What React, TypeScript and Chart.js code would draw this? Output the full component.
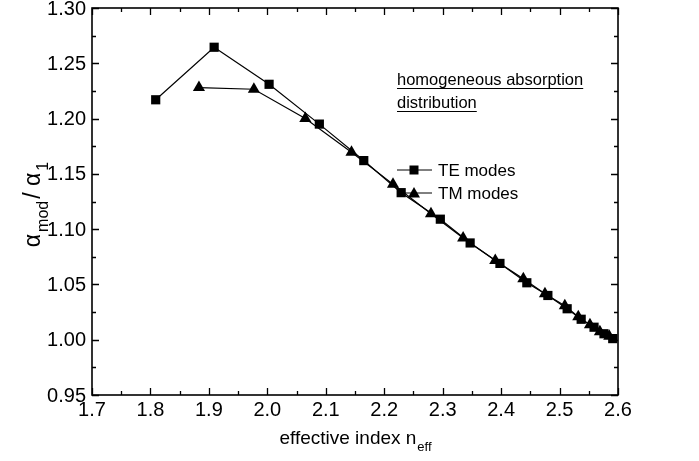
import React, { useEffect, useRef } from "react";
import { Chart, registerables } from "chart.js";

Chart.register(...registerables);

// Effective index and normalised modal absorption of the guided modes
const teIndex = [1.809, 1.909, 2.003, 2.089, 2.165, 2.229, 2.296, 2.347, 2.398, 2.444, 2.48, 2.513, 2.537, 2.559, 2.576, 2.591];
const teRatio = [1.217, 1.2645, 1.231, 1.195, 1.162, 1.133, 1.109, 1.0875, 1.069, 1.0515, 1.04, 1.028, 1.0185, 1.0113, 1.0054, 1.001];
const tmIndex = [1.883, 1.977, 2.065, 2.144, 2.215, 2.28, 2.335, 2.39, 2.438, 2.475, 2.509, 2.532, 2.552, 2.569, 2.585];
const tmRatio = [1.228, 1.2265, 1.2, 1.1696, 1.1407, 1.114, 1.092, 1.0717, 1.0551, 1.0416, 1.0307, 1.0208, 1.0136, 1.0072, 1.0032];

const xTicks = [1.7, 1.8, 1.9, 2.0, 2.1, 2.2, 2.3, 2.4, 2.5, 2.6];
const yTicks = [0.95, 1.0, 1.05, 1.1, 1.15, 1.2, 1.25, 1.3];
const seriesNames = ["TE modes", "TM modes"];
const noteLines = ["homogeneous absorption", "distribution"];

const FONT = "'Liberation Sans', Arial, sans-serif";

const toPoints = (xs: number[], ys: number[]) => xs.map((x, i) => ({ x, y: ys[i] }));

// Frame, inward major/minor ticks on all four sides, and tick labels
const framePlugin = {
  id: "frameTicks",
  afterDatasetsDraw(chart: any) {
    const { ctx, chartArea: a, scales } = chart;
    const xs = scales.x;
    const ys = scales.y;
    ctx.save();
    ctx.strokeStyle = "#000";
    ctx.fillStyle = "#000";
    ctx.lineWidth = 1.6;
    ctx.strokeRect(a.left, a.top, a.right - a.left, a.bottom - a.top);
    ctx.lineWidth = 1.3;

    const xStep = (xTicks[1] - xTicks[0]) / 2;
    for (let i = 0; i <= (xTicks.length - 1) * 2; i++) {
      const v = xTicks[0] + i * xStep;
      const len = i % 2 === 0 ? 7 : 4;
      const px = Math.round(xs.getPixelForValue(v)) + 0.5;
      ctx.beginPath();
      ctx.moveTo(px, a.bottom);
      ctx.lineTo(px, a.bottom - len);
      ctx.moveTo(px, a.top);
      ctx.lineTo(px, a.top + len);
      ctx.stroke();
    }
    const yStep = (yTicks[1] - yTicks[0]) / 2;
    for (let i = 0; i <= (yTicks.length - 1) * 2; i++) {
      const v = yTicks[0] + i * yStep;
      const len = i % 2 === 0 ? 7 : 4;
      const py = Math.round(ys.getPixelForValue(v)) + 0.5;
      ctx.beginPath();
      ctx.moveTo(a.left, py);
      ctx.lineTo(a.left + len, py);
      ctx.moveTo(a.right, py);
      ctx.lineTo(a.right - len, py);
      ctx.stroke();
    }

    ctx.font = `20px ${FONT}`;
    ctx.textAlign = "center";
    ctx.textBaseline = "top";
    xTicks.forEach((v) => {
      ctx.fillText(v.toFixed(1), xs.getPixelForValue(v), a.bottom + 5);
    });
    ctx.textAlign = "right";
    ctx.textBaseline = "middle";
    yTicks.forEach((v) => {
      ctx.fillText(v.toFixed(2), a.left - 6, ys.getPixelForValue(v) + 1);
    });
    ctx.restore();
  },
};

// Axis titles with subscripts, the note and the legend inside the plot
const annotationPlugin = {
  id: "titlesAndLegend",
  afterDraw(chart: any) {
    const { ctx, chartArea: a } = chart;
    ctx.save();
    ctx.fillStyle = "#000";
    ctx.strokeStyle = "#000";
    ctx.textBaseline = "alphabetic";
    ctx.textAlign = "left";

    // x title: effective index n_eff
    const big = `19px ${FONT}`;
    const small = `13px ${FONT}`;
    ctx.font = big;
    const main = "effective index n";
    const wMain = ctx.measureText(main).width;
    ctx.font = small;
    const wSub = ctx.measureText("eff").width;
    const x0 = (a.left + a.right) / 2 - (wMain + wSub) / 2;
    const yBase = 444;
    ctx.font = big;
    ctx.fillText(main, x0, yBase);
    ctx.font = small;
    ctx.fillText("eff", x0 + wMain + 1, yBase + 7);

    // y title: alpha_mod / alpha_1, rotated
    const gBig = `23px ${FONT}`;
    const gSmall = `16px ${FONT}`;
    ctx.save();
    ctx.translate(40, (a.top + a.bottom) / 2 + 2);
    ctx.rotate(-Math.PI / 2);
    const parts: [string, boolean][] = [["α", false], ["mod", true], ["/ α", false], ["1", true]];
    let total = 0;
    for (const [t, sub] of parts) {
      ctx.font = sub ? gSmall : gBig;
      total += ctx.measureText(t).width + 2;
    }
    let cx = -total / 2;
    for (const [t, sub] of parts) {
      ctx.font = sub ? gSmall : gBig;
      ctx.fillText(t, cx, sub ? 8 : 0);
      cx += ctx.measureText(t).width + 2;
    }
    ctx.restore();

    // note, underlined
    ctx.font = `16.5px ${FONT}`;
    const noteX = 397;
    const noteY = [85, 108];
    noteLines.forEach((line, i) => {
      ctx.fillText(line, noteX, noteY[i]);
      const w = ctx.measureText(line).width;
      ctx.lineWidth = 1;
      ctx.beginPath();
      ctx.moveTo(noteX, noteY[i] + 3.5);
      ctx.lineTo(noteX + w, noteY[i] + 3.5);
      ctx.stroke();
    });

    // legend entries
    const rows = [170, 193];
    seriesNames.forEach((name, i) => {
      const y = rows[i];
      ctx.lineWidth = 1;
      ctx.beginPath();
      ctx.moveTo(397, y);
      ctx.lineTo(432, y);
      ctx.stroke();
      ctx.beginPath();
      if (i === 0) {
        ctx.rect(414 - 4.5, y - 4.5, 9, 9);
      } else {
        ctx.moveTo(414, y - 6);
        ctx.lineTo(420, y + 4.5);
        ctx.lineTo(408, y + 4.5);
        ctx.closePath();
      }
      ctx.fill();
      ctx.font = `17px ${FONT}`;
      ctx.fillText(name, 438, y + 6);
    });
    ctx.restore();
  },
};

export default function App() {
  const ref = useRef<HTMLCanvasElement | null>(null);

  useEffect(() => {
    document.body.style.margin = "0";
    const canvas = ref.current;
    if (!canvas) return;
    const chart = new Chart(canvas, {
      type: "line",
      data: {
        datasets: [
          {
            label: seriesNames[0],
            data: toPoints(teIndex, teRatio),
            borderColor: "#000",
            backgroundColor: "#000",
            borderWidth: 1.2,
            pointStyle: "rect",
            pointRadius: 6.5,
            pointBorderWidth: 0,
            tension: 0,
          },
          {
            label: seriesNames[1],
            data: toPoints(tmIndex, tmRatio),
            borderColor: "#000",
            backgroundColor: "#000",
            borderWidth: 1.2,
            pointStyle: "triangle",
            pointRadius: 7,
            pointBorderWidth: 0,
            tension: 0,
          },
        ],
      },
      options: {
        animation: false,
        responsive: false,
        parsing: false as any,
        layout: { padding: { top: 8, right: 81, left: 0, bottom: 0 } },
        plugins: { legend: { display: false }, tooltip: { enabled: false } },
        scales: {
          x: {
            type: "linear",
            min: xTicks[0],
            max: xTicks[xTicks.length - 1],
            afterFit: (s: any) => { s.height = 66; },
            grid: { display: false },
            border: { display: false },
            ticks: { display: false },
          },
          y: {
            type: "linear",
            min: yTicks[0],
            max: yTicks[yTicks.length - 1],
            afterFit: (s: any) => { s.width = 92; },
            grid: { display: false },
            border: { display: false },
            ticks: { display: false },
          },
        },
      },
      plugins: [framePlugin, annotationPlugin],
    });
    return () => chart.destroy();
  }, []);

  return <canvas ref={ref} width={699} height={461} style={{ display: "block" }} />;
}
